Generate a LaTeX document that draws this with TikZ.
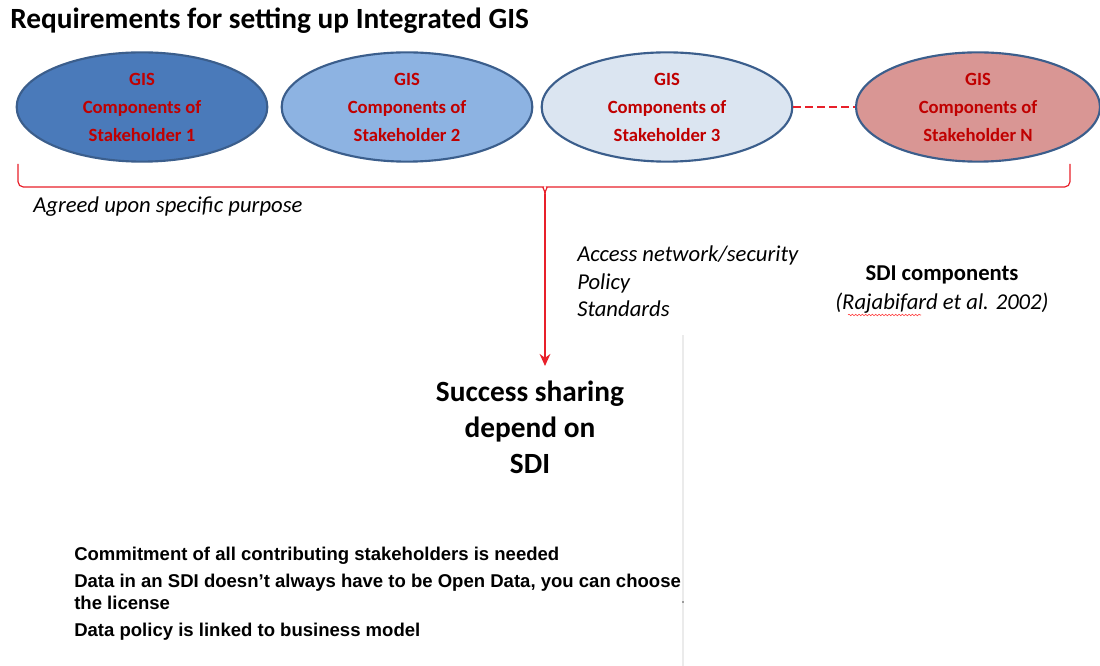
\documentclass[tikz,border=0pt]{standalone}
\usepackage{fontspec}
\setmainfont{Carlito}
\newfontfamily\arialfont{Liberation Sans}
\usetikzlibrary{shapes.geometric,arrows.meta,decorations.pathmorphing}

\definecolor{gisred}{HTML}{C00000}
\definecolor{rimblue}{HTML}{3B5E8C}
\definecolor{linered}{HTML}{E8202A}

\tikzset{
  holder/.style={ellipse, draw=rimblue, line width=1.6pt, minimum width=188pt, minimum height=80pt,
    text=gisred, font=\fontsize{14}{21}\selectfont\bfseries, align=center},
  note/.style={font=\fontsize{17}{20}\selectfont\itshape, anchor=base west, inner sep=0pt},
  point/.style={font=\arialfont\fontsize{13.9}{20}\selectfont\bfseries, anchor=base west, inner sep=0pt}
}

\begin{document}
\begin{tikzpicture}[x=0.75pt,y=-0.75pt]
  \useasboundingbox (0,0) rectangle (1100,666);
  \node[anchor=base west, inner sep=0pt, font=\fontsize{22}{24}\selectfont\bfseries] (title) at (10,29) {Requirements for setting up Integrated GIS};

  % the stakeholders
  \node[holder, fill={rgb,255:red,74;green,122;blue,186}] (sh1) at (142,107) {GIS\\Components of\\Stakeholder 1};
  \node[holder, fill={rgb,255:red,141;green,179;blue,226}] (sh2) at (407,107) {GIS\\Components of\\Stakeholder 2};
  \node[holder, fill={rgb,255:red,219;green,229;blue,241}] (sh3) at (667,107) {GIS\\Components of\\Stakeholder 3};
  \node[holder, fill={rgb,255:red,217;green,150;blue,148}, minimum width=183pt] (shn) at (978,107) {GIS\\Components of\\Stakeholder N};
  \draw[linered, line width=1.8pt, dash pattern=on 6pt off 3pt] (sh3) -- (shn);

  % brace under the ellipses
  \coordinate (tip) at (545,194);
  \draw[linered, line width=0.9pt, rounded corners=4] (18,164) |- (538,187) to[out=0,in=90] (tip);
  \draw[linered, line width=0.9pt, rounded corners=4] (1070,164) |- (552,187) to[out=180,in=90] (tip);
  \node[note] (purpose) at (33,213) {Agreed upon specific purpose};

  \coordinate (end) at (545,366);
  \draw[linered, line width=1.8pt, -{Stealth[length=9pt, width=8pt]}] (tip) -- (end);

  \node[note] (access) at (577,262) {Access network/security};
  \node[note] (policy) at (577,290) {Policy};
  \node[note] (stand) at (577,317) {Standards};

  \node[font=\fontsize{17}{20}\selectfont\bfseries] (sdi) at (942,275) {SDI components};
  \node[font=\fontsize{17}{20}\selectfont\itshape] (cite) at (942,303) {(Rajabifard et al. 2002)};
  \draw[red!80, line width=0.4pt, decorate, decoration={snake, amplitude=0.6pt, segment length=2.5pt}] (848,315) -- (921,315);

  % pasted slide edge
  \draw[black!8, line width=0.8pt] (683,335) -- (683,666);
  \fill[black!70] (683,602) circle (0.9);

  \node[font=\fontsize{22}{27}\selectfont\bfseries, align=center] (share) at (530,427) {Success sharing\\depend on\\SDI};

  \node[point] (p1) at (74,560) {Commitment of all contributing stakeholders is needed};
  \node[point] (p2) at (74,587) {Data in an SDI doesn’t always have to be Open Data, you can choose};
  \node[point] (p3) at (74,609) {the license};
  \node[point] (p4) at (74,636) {Data policy is linked to business model};
\end{tikzpicture}
\end{document}
